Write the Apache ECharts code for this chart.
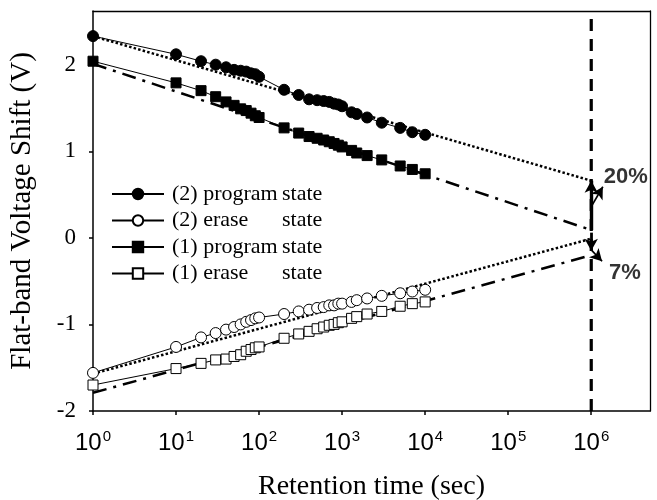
<!DOCTYPE html>
<html>
<head>
<meta charset="utf-8">
<script src="https://cdn.jsdelivr.net/npm/echarts@6/dist/echarts.min.js"></script>
<style>html,body{margin:0;padding:0;background:#fff}#c{width:657px;height:500px}</style>
</head>
<body>
<div id="c"></div>
<script>
// Retention times (sec)
const times = [1,10,20,30,40,50,60,70,80,90,100,200,300,400,500,600,700,800,900,1000,1300,1500,2000,3000,5000,7000,10000];
// (2) program state (filled circles)
const prog2 = [2.33,2.12,2.04,2.00,1.97,1.94,1.93,1.92,1.90,1.89,1.86,1.71,1.65,1.60,1.59,1.58,1.57,1.55,1.54,1.52,1.45,1.43,1.39,1.33,1.27,1.22,1.19];
// (2) erase state (open circles)
const erase2 = [-1.56,-1.26,-1.15,-1.10,-1.06,-1.03,-1.00,-0.97,-0.95,-0.93,-0.92,-0.88,-0.85,-0.83,-0.81,-0.80,-0.78,-0.78,-0.76,-0.76,-0.74,-0.72,-0.70,-0.67,-0.64,-0.62,-0.60];
// (1) program state (filled squares)
const prog1 = [2.04,1.79,1.70,1.63,1.57,1.53,1.49,1.47,1.44,1.41,1.39,1.27,1.21,1.17,1.15,1.13,1.11,1.09,1.07,1.05,1.01,0.98,0.95,0.90,0.83,0.79,0.74];
// (1) erase state (open squares)
const erase1 = [-1.70,-1.51,-1.45,-1.41,-1.40,-1.37,-1.35,-1.31,-1.29,-1.27,-1.26,-1.16,-1.11,-1.08,-1.05,-1.03,-1.01,-1.00,-0.98,-0.97,-0.93,-0.91,-0.88,-0.85,-0.79,-0.76,-0.74];
// Extrapolation lines to 10 years
const fitTimes = [1, 1e6];
const fitProg2 = [2.33, 0.66];
const fitProg1 = [2.01, 0.09];
const fitErase2 = [-1.57, -0.01];
const fitErase1 = [-1.79, -0.20];
// vertical marker at 1e6 s
const markTimes = [1e6, 1e6];
const markVolts = [-2, 2.62];
// arrows [from, to]
const arrows = [
  [[1e6, 0.09], [1e6, 0.66]],
  [[1e6, 0.36], [1.38e6, 0.59]],
  [[1e6, 0.06], [1e6, -0.15]],
  [[1e6, -0.14], [1.35e6, -0.27]]
];
// annotation texts
const notes = [[2.6e6, 0.70, '20%'], [2.55e6, -0.41, '7%']];
// tick labels
const xTicks = [1,10,100,1000,10000,100000,1000000];
const yTicks = [-2,-1,0,1,2];
const names = ['(2) program state','(2) erase state','(1) program state','(1) erase state'];

const zip = (xs, ys) => xs.map((x, i) => [x, ys[i]]);
const serif = '"Liberation Serif","Times New Roman",serif';
const sans = '"Liberation Sans",Arial,sans-serif';

function dataSeries(name, ys, symbol, filled) {
  return {
    type: 'line', name: name, data: zip(times, ys), symbol: symbol,
    symbolSize: symbol === 'rect' ? 10 : 11,
    lineStyle: {color: '#000', width: 1},
    itemStyle: filled ? {color: '#000', borderColor: '#000', borderWidth: 1} : {color: '#fff', borderColor: '#000', borderWidth: 1},
    z: 5
  };
}
function fitSeries(ys, type) {
  return {
    type: 'line', data: zip(fitTimes, ys), symbol: 'none', silent: true,
    lineStyle: {color: '#000', width: 2.5, type: type}, z: 3
  };
}
const dotted = [2.5, 2.2];
const dashDot = [14, 7, 3, 7];
const boxLine = {show: true, onZero: false, lineStyle: {color: '#000', width: 1.3}};

const chart = echarts.init(document.getElementById('c'));
chart.setOption({
  animation: false,
  backgroundColor: '#fff',
  grid: {left: 93, right: 7, top: 11, bottom: 89, containLabel: false, outerBoundsMode: 'none'},
  legend: {
    data: names, orient: 'vertical', left: 106, top: 178, itemWidth: 52, itemHeight: 13, itemGap: 4.5,
    formatter: function (n) {
      const i = n.lastIndexOf(' ');
      return '{a|' + n.slice(0, i) + '}{b|' + n.slice(i + 1) + '}';
    },
    textStyle: {
      color: '#000', fontFamily: serif, fontSize: 22,
      rich: {
        a: {fontFamily: serif, fontSize: 22, color: '#000', width: 110, padding: [0, 0, 0, 3]},
        b: {fontFamily: serif, fontSize: 22, color: '#000'}
      }
    }
  },
  xAxis: [{
    type: 'log', logBase: 10, min: 1, max: 5.1e6,
    name: 'Retention time (sec)', nameLocation: 'middle', nameGap: 62,
    nameTextStyle: {fontFamily: serif, fontSize: 28, color: '#000'},
    axisLine: {show: true, onZero: false, lineStyle: {color: '#000', width: 1.5}},
    axisTick: {show: true, length: 4, customValues: xTicks, lineStyle: {color: '#000', width: 1.5}},
    splitLine: {show: false},
    minorTick: {show: false},
    axisLabel: {
      customValues: xTicks, margin: 18, color: '#000',
      formatter: function (v) { return '{b|10}{s|' + Math.round(Math.log10(v)) + '}'; },
      rich: {
        b: {fontFamily: sans, fontSize: 24, color: '#000'},
        s: {fontFamily: sans, fontSize: 15, color: '#000', padding: [0, 0, 13, 1]}
      }
    }
  }, {
    type: 'log', logBase: 10, min: 1, max: 5.1e6, position: 'top',
    axisLine: boxLine, axisTick: {show: false}, axisLabel: {show: false}, splitLine: {show: false}, minorTick: {show: false}
  }],
  yAxis: [{
    type: 'value', min: -2, max: 2.62, interval: 1,
    name: 'Flat-band Voltage Shift (V)', nameLocation: 'middle', nameGap: 56,
    nameTextStyle: {fontFamily: serif, fontSize: 29, color: '#000'},
    axisLine: {show: true, onZero: false, lineStyle: {color: '#000', width: 1.5}},
    axisTick: {show: true, length: 4, customValues: yTicks, lineStyle: {color: '#000', width: 1.5}},
    splitLine: {show: false},
    axisLabel: {customValues: yTicks, margin: 17, fontFamily: serif, fontSize: 23, color: '#000'}
  }, {
    type: 'value', min: -2, max: 2.62, position: 'right',
    axisLine: boxLine, axisTick: {show: false}, axisLabel: {show: false}, splitLine: {show: false}
  }],
  series: [
    fitSeries(fitProg2, dotted),
    fitSeries(fitErase2, dotted),
    fitSeries(fitProg1, dashDot),
    fitSeries(fitErase1, dashDot),
    {
      type: 'line', data: zip(markTimes, markVolts), symbol: 'none', silent: true,
      lineStyle: {color: '#000', width: 3.2, type: [12, 8]}, z: 4,
      markLine: {
        silent: true, symbol: ['none', 'arrow'], symbolSize: [10, 12],
        label: {show: false},
        lineStyle: {color: '#000', type: 'solid'},
        data: arrows.map((a, i) => [
          {coord: a[0], lineStyle: {width: i === 0 ? 3.4 : (i === 2 ? 2.8 : 1.7), color: '#000', type: 'solid'}},
          {coord: a[1]}
        ])
      }
    },
    dataSeries(names[0], prog2, 'circle', true),
    dataSeries(names[1], erase2, 'circle', false),
    dataSeries(names[2], prog1, 'rect', true),
    dataSeries(names[3], erase1, 'rect', false),
    {
      type: 'scatter', data: notes, symbolSize: 1, itemStyle: {color: 'rgba(0,0,0,0)'}, silent: true, z: 10,
      label: {show: true, position: 'inside', formatter: p => p.value[2],
        fontFamily: sans, fontWeight: 'bold', fontSize: 22, color: '#000'}
    }
  ]
});
</script>
</body>
</html>
